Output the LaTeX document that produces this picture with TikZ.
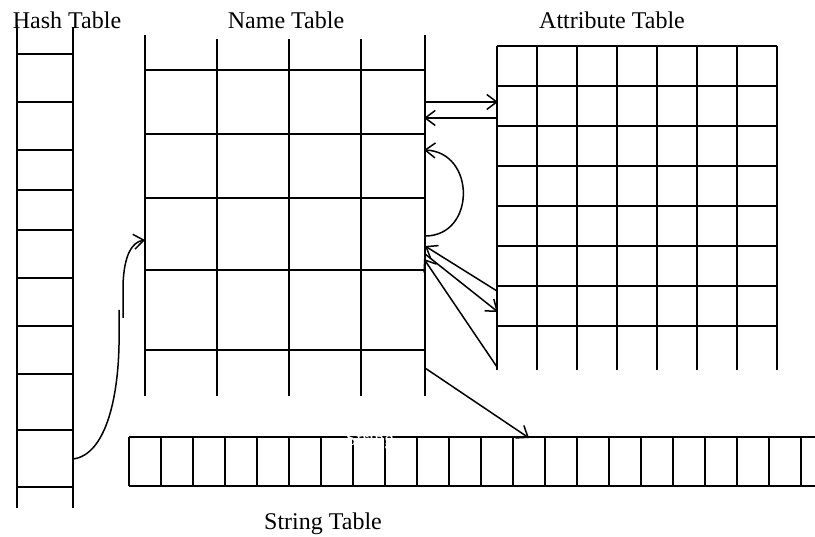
\documentclass[tikz,border=0pt]{standalone}
\usepackage{fontspec}
\setmainfont{Liberation Serif}
\usetikzlibrary{arrows.meta}
\begin{document}
\begin{tikzpicture}[x=1pt,y=-1pt,
  gridline/.style={line width=1.8pt},
  conn/.style={line width=1.5pt},
  arr/.style={conn,-{Straight Barb[length=10pt,width=15pt,line width=1.5pt]}},
  lbl/.style={font=\fontsize{24}{28}\selectfont, anchor=base, inner sep=0pt}]
\useasboundingbox (0,0) rectangle (815,537);
% labels
\node[lbl] (hashlbl) at (67,29) {Hash Table};
\node[lbl] (namelbl) at (286,29) {Name Table};
\node[lbl] (attrlbl) at (612,29) {Attribute Table};
\node[lbl] (strlbl) at (323,530) {String Table};
% hash table
\draw[gridline] (17,25) -- (17,508);
\draw[gridline] (73,27) -- (73,508);
\foreach \y in {54,102,150,190,230,278,326,374,430,487}
  \draw[gridline] (17,\y) -- (73,\y);
% name table
\draw[gridline] (145,35) -- (145,396);
\foreach \x in {217,289,361}
  \draw[gridline] (\x,39) -- (\x,396);
\draw[gridline] (425,35) -- (425,396);
\foreach \y in {70,134,198,270,350}
  \draw[gridline] (145,\y) -- (425,\y);
% attribute table
\foreach \x in {497,537,...,777}
  \draw[gridline] (\x,46) -- (\x,370);
\foreach \y in {46,86,...,326}
  \draw[gridline] (497,\y) -- (777,\y);
% string table
\draw[gridline] (129,437) -- (815,437);
\draw[gridline] (129,486) -- (815,486);
\foreach \i in {0,...,21}
  \draw[gridline] ({129+32*\i},437) -- ({129+32*\i},486);
\node[font=\fontsize{20}{24}\selectfont, text=white, anchor=base, inner sep=0pt] (strghost) at (370,446) {String};
% connector coordinates
\coordinate (h1) at (73,459);
\coordinate (hmidA) at (119,310);
\coordinate (hmidB) at (123,318);
\coordinate (n1) at (145,240);
\coordinate (nA) at (425,102);
\coordinate (aA) at (498,102);
\coordinate (aB) at (497,118);
\coordinate (nB) at (424,118);
\coordinate (arcS) at (425,236);
\coordinate (arcE) at (424,150);
\coordinate (aC) at (497,291);
\coordinate (nC) at (425,246);
\coordinate (nD) at (425,254);
\coordinate (aD) at (498,312);
\coordinate (aE) at (497,367);
\coordinate (nE) at (424,259);
\coordinate (nF) at (425,368);
\coordinate (sF) at (529,438);
% connectors
\draw[conn] (h1) .. controls (105,455) and (118,400) .. (119,345) -- (hmidA);
\draw[arr] (hmidB) -- (123,285) .. controls (124,255) and (132,242) .. (n1);
\draw[arr] (nA) -- (aA);
\draw[arr] (aB) -- (nB);
\draw[arr] (arcS) .. controls (476,236) and (476,152) .. (arcE);
\draw[arr] (aC) -- (nC);
\draw[arr] (nD) -- (aD);
\draw[arr] (aE) -- (nE);
\draw[arr] (nF) -- (sF);
\end{tikzpicture}
\end{document}
